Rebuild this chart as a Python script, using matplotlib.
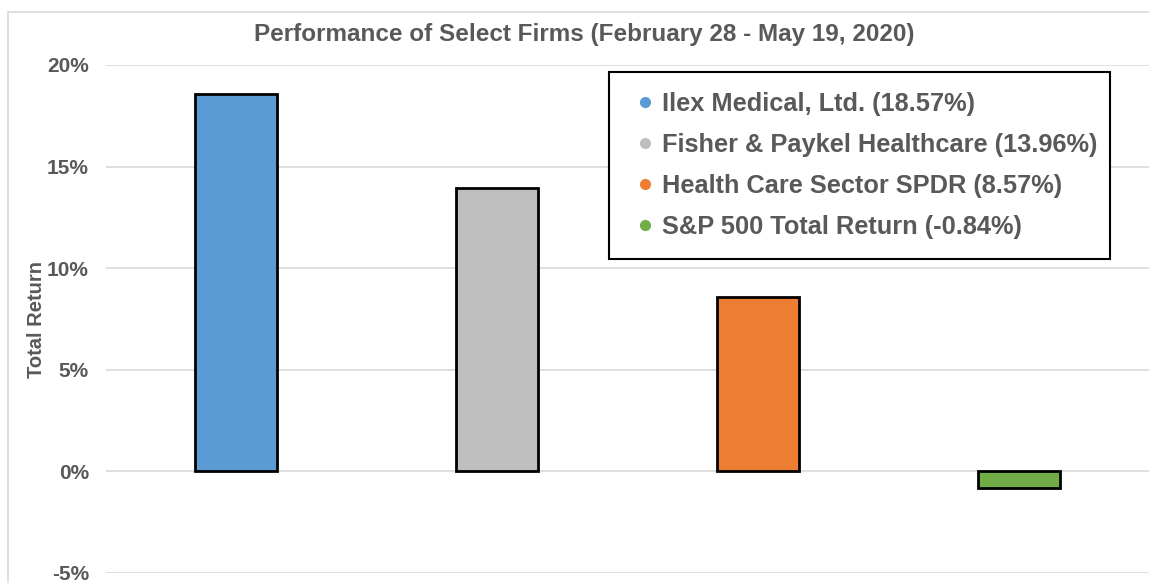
import matplotlib.pyplot as plt
from matplotlib.lines import Line2D
from matplotlib.patches import Rectangle
from matplotlib.ticker import FuncFormatter

plt.rc('font', family=['Liberation Sans', 'DejaVu Sans'], weight='bold')
plt.rc('axes', labelweight='bold')

firms = ['Ilex Medical, Ltd.', 'Fisher & Paykel Healthcare',
         'Health Care Sector SPDR', 'S&P 500 Total Return']
returns = [18.57, 13.96, 8.57, -0.84]
colors = ['#5B9BD5', '#BFBFBF', '#ED7D31', '#70AD47']
yticks = [-5, 0, 5, 10, 15, 20]

txt = '#595959'
W, H = 1149, 583
fig = plt.figure(figsize=(W/100, H/100), dpi=100)

# outer chart border (light grey, runs off the page)
fig.patches.append(Rectangle((8/W, -0.1), 1.2, (H-12)/H + 0.1,
                             transform=fig.transFigure, fill=False,
                             edgecolor='#D9D9D9', linewidth=1.2))

ax = fig.add_axes([105.5/W, 10/H, (W-105.5)/W, 508/H])
x = range(len(firms))
ax.bar(x, returns, width=0.314, color=colors, edgecolor='black',
       linewidth=2, zorder=3)

ax.set_xlim(-0.5, len(firms)-0.5)
ax.set_ylim(-5, 20)
ax.set_yticks(yticks)
ax.yaxis.set_major_formatter(FuncFormatter(lambda v, p: '%d%%' % v))
ax.tick_params(axis='y', length=0, pad=12, labelsize=15, labelcolor=txt)
ax.set_xticks([])
ax.grid(axis='y', color='#D9D9D9', linewidth=1.2, zorder=0)
for s in ax.spines.values():
    s.set_visible(False)
ax.set_ylabel('Total Return', fontsize=14.5, color=txt, labelpad=1)

fig.text(584/W, 1 - 35/H, 'Performance of Select Firms (February 28 - May 19, 2020)',
         ha='center', va='center', fontsize=17.5, color=txt)

# legend
handles = [Line2D([], [], marker='o', linestyle='', markersize=7,
                  markerfacecolor=c, markeredgecolor=c) for c in colors]
labels = ['%s (%.2f%%)' % (f, r) for f, r in zip(firms, returns)]
leg = ax.legend(handles, labels, loc='upper left',
                bbox_to_anchor=((609-105.5)/1043.5, (573-260)/508,
                                (1110-609)/1043.5, (260-72)/508),
                mode='expand', fancybox=False, framealpha=1,
                edgecolor='black', fontsize=18.3, labelcolor=txt,
                handletextpad=0.08, handlelength=1.2, labelspacing=0.66,
                borderpad=0.8, borderaxespad=0)
leg.get_frame().set_linewidth(1.5)

fig.savefig('out.png', dpi=100)
